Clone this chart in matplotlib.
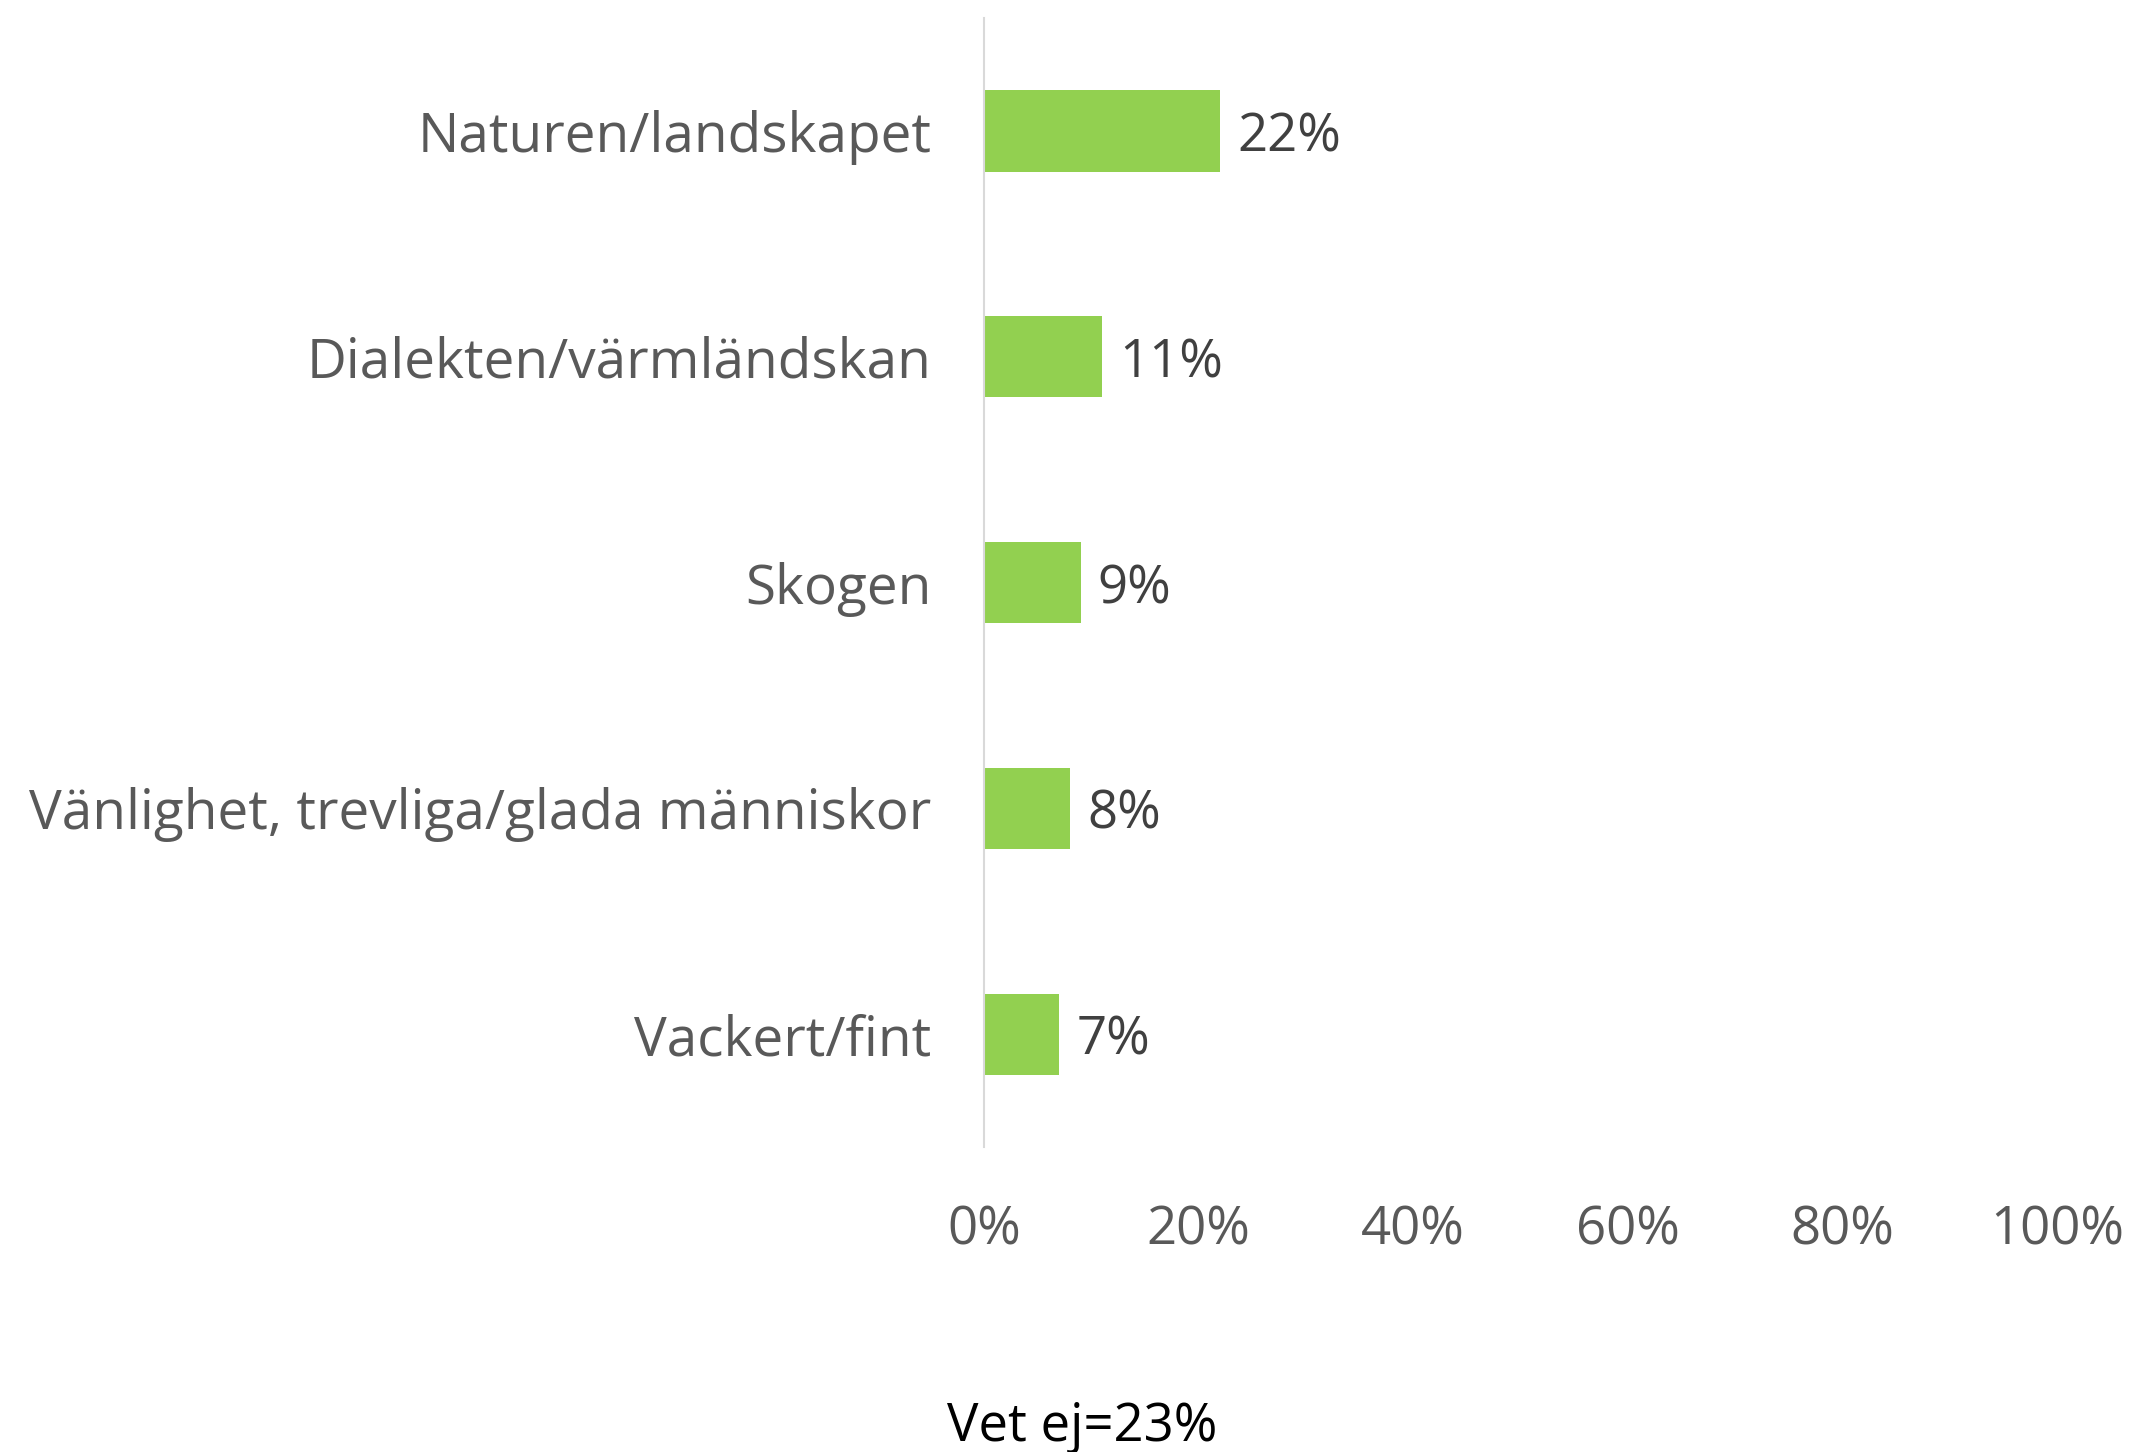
import matplotlib.pyplot as plt

# Data
categories = ['Naturen/landskapet', 'Dialekten/värmländskan', 'Skogen',
              'Vänlighet, trevliga/glada människor', 'Vackert/fint']
values = [22, 11, 9, 8, 7]
ticks = [0, 20, 40, 60, 80, 100]
tick_labels = ['0%', '20%', '40%', '60%', '80%', '100%']
note = 'Vet ej=23%'

plt.rcParams['font.family'] = ['Open Sans', 'DejaVu Sans']

fig = plt.figure(figsize=(21.34, 14.52), dpi=100)
ax = fig.add_axes([0.4611, 0.21, 0.5028, 0.7776])

ypos = list(range(len(categories)))
bars = ax.barh(ypos, values, height=0.36, color='#92D050')
ax.set_ylim(len(categories) - 0.5, -0.5)
ax.set_xlim(0, 100)

for y, v in zip(ypos, values):
    ax.text(v + 1.6, y + 0.03, f'{v}%', va='center', ha='left',
            fontsize=38, color='#404040')

ax.set_yticks(ypos)
ax.set_yticklabels(categories, fontsize=39.5, color='#595959')
ax.set_xticks(ticks)
ax.set_xticklabels(tick_labels, fontsize=38, color='#595959')
ax.tick_params(axis='y', length=0, pad=38)
ax.tick_params(axis='x', length=0, pad=41)

for s in ['top', 'right', 'bottom']:
    ax.spines[s].set_visible(False)
ax.spines['left'].set_color('#D9D9D9')
ax.spines['left'].set_linewidth(1.5)

fig.text(0.507, 0.017, note, ha='center', va='center', fontsize=38, color='black')

fig.savefig('out.png', dpi=100)
